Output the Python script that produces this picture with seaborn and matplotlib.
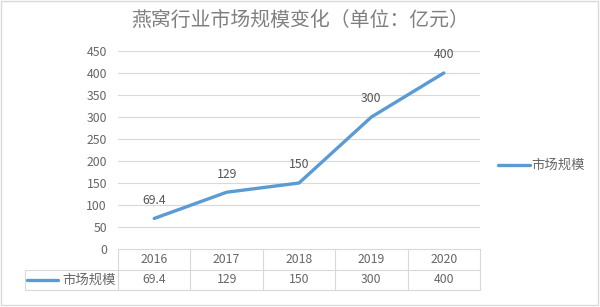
import matplotlib
matplotlib.use("Agg")
import matplotlib.pyplot as plt
import seaborn as sns
import pandas as pd
from matplotlib.lines import Line2D
from matplotlib.patches import Rectangle

years = ["2016", "2017", "2018", "2019", "2020"]
values = [69.4, 129, 150, 300, 400]
value_labels = ["69.4", "129", "150", "300", "400"]
series_name = "市场规模"
title = "燕窝行业市场规模变化（单位：亿元）"
yticks = [0, 50, 100, 150, 200, 250, 300, 350, 400, 450]

sns.set_theme(style="white")
plt.rcParams['font.family'] = ['Noto Sans CJK SC', 'DejaVu Sans']

W, H = 600, 307
fig = plt.figure(figsize=(W / 100, H / 100), dpi=100)
fig.patch.set_facecolor("white")

LINE = "#5B9BD5"
TXT = "#666666"
GRID = "#D9D9D9"
NUM_FS = 8.8
CJK_FS = 9.6

def fx(px):
    return px / W

def fy(py):
    return 1 - py / H

left, right, top, bottom = 118, 480, 51, 249
ax = fig.add_axes([fx(left), fy(bottom), fx(right - left), (bottom - top) / H])

df = pd.DataFrame({"pos": list(range(len(years))), "value": values})
sns.lineplot(data=df, x="pos", y="value", ax=ax, color=LINE, linewidth=2.4)
ax.set_xlim(-0.5, len(years) - 0.5)
ax.set_ylim(0, 450)
ax.set_yticks(yticks)
ax.set_yticklabels([str(t) for t in yticks], color=TXT, fontsize=NUM_FS)
ax.set_xticks([])
ax.set_xlabel("")
ax.set_ylabel("")
ax.tick_params(axis="y", length=0, pad=8)
for t in yticks[1:]:
    ax.axhline(t, color=GRID, linewidth=0.8, zorder=0)
for s in ["left", "right", "top", "bottom"]:
    ax.spines[s].set_visible(False)

for i, (v, lab) in enumerate(zip(values, value_labels)):
    ax.annotate(lab, (i, v), xytext=(0, 13), textcoords="offset points",
                ha="center", va="center", color="#555555", fontsize=NUM_FS)

# data table
col_w = (right - left) / len(years)
leg_w = (left - 25) / col_w
tb = fig.add_axes([fx(25), fy(290), fx(right - 25), (290 - 249) / H])
tb.set_xlim(-0.5 - leg_w, len(years) - 0.5)
tb.set_ylim(0, 2)
tb.axis("off")
lw = 0.8
tb.plot([-0.5, len(years) - 0.5], [2, 2], color=GRID, lw=lw, clip_on=False)
tb.plot([-0.5 - leg_w, len(years) - 0.5], [1, 1], color=GRID, lw=lw, clip_on=False)
tb.plot([-0.5 - leg_w, len(years) - 0.5], [0, 0], color=GRID, lw=lw, clip_on=False)
tb.plot([-0.5 - leg_w, -0.5 - leg_w], [0, 1], color=GRID, lw=lw, clip_on=False)
for k in range(len(years) + 1):
    tb.plot([k - 0.5, k - 0.5], [0, 2], color=GRID, lw=lw, clip_on=False)
for i, (y, lab) in enumerate(zip(years, value_labels)):
    tb.text(i, 1.5, y, ha="center", va="center", color=TXT, fontsize=NUM_FS)
    tb.text(i, 0.5, lab, ha="center", va="center", color=TXT, fontsize=NUM_FS)
x0 = -0.5 - leg_w
tb.plot([x0 + 0.03, x0 + 0.46], [0.5, 0.5], color=LINE, lw=2.4, clip_on=False)
tb.text(-0.53, 0.5, series_name, ha="right", va="center", color=TXT, fontsize=CJK_FS)

# legend on right
fig.add_artist(Line2D([fx(498), fx(530)], [fy(165), fy(165)], color=LINE, lw=2.4))
fig.text(fx(531), fy(165), series_name, ha="left", va="center", color=TXT, fontsize=CJK_FS)

# title
fig.text(0.5, fy(20), title, ha="center", va="center", color="#7F7F7F", fontsize=14.3)

# outer border
fig.add_artist(Rectangle((fx(1), fy(305)), fx(597), (304) / H, fill=False,
                         edgecolor="#D9D9D9", lw=1, transform=fig.transFigure))

fig.savefig("out.png", dpi=100, facecolor="white")
